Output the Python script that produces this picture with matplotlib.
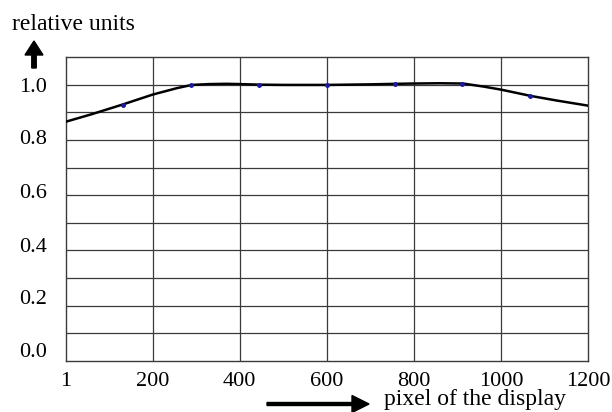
import matplotlib.pyplot as plt

plt.rcParams['font.family'] = ['Liberation Serif', 'DejaVu Serif']

curve_x = [1, 60, 131, 200, 255, 290, 330, 370, 400, 444, 500, 600,
           700, 759, 800, 860, 913, 960, 1000, 1069, 1130, 1200]
curve_y = [0.866, 0.893, 0.928, 0.964, 0.987, 0.999, 1.002, 1.003, 1.002,
           1.000, 0.999, 0.999, 1.001, 1.003, 1.004, 1.005, 1.004, 0.993,
           0.982, 0.959, 0.942, 0.924]

# sample points
pts_x = [133, 289, 444, 600, 756, 911, 1067]
pts_y = [0.928, 1.0, 0.998, 0.999, 1.003, 1.004, 0.959]

x_ticks = [1, 200, 400, 600, 800, 1000, 1200]
y_labels = ['0.0', '0.2', '0.4', '0.6', '0.8', '1.0']
y_label_pos = [0.04, 0.231, 0.419, 0.614, 0.809, 1.0]

fig = plt.figure(figsize=(6.12, 4.12), dpi=100)
ax = fig.add_axes([66 / 612, 1 - 361 / 412, 522 / 612, 304 / 412])

ax.set_xlim(1, 1200)
ax.set_ylim(0, 1.1)

# grid
for gx in x_ticks[1:-1]:
    ax.axvline(gx, color='#3a3a3a', lw=0.9, zorder=1)
for i in range(1, 11):
    ax.axhline(i / 10, color='#3a3a3a', lw=0.9, zorder=1)
for s in ax.spines.values():
    s.set_color('#3a3a3a')
    s.set_linewidth(1.0)

ax.plot(curve_x, curve_y, color='black', lw=1.8, zorder=3)
ax.plot(pts_x, pts_y, 'o', color='#1a1aa0', ms=2.5, zorder=4)

ax.set_xticks(x_ticks, [str(t) for t in x_ticks])
ax.set_yticks(y_label_pos, y_labels)
ax.tick_params(axis='x', length=0, pad=8, labelsize=16)
ax.tick_params(axis='y', length=0, pad=14, labelsize=16)

fig.text(12 / 612, 1 - 25 / 412, 'relative units', fontsize=17,
         ha='left', va='center')
fig.text(384 / 612, 1 - 400 / 412, 'pixel of the display', fontsize=17,
         ha='left', va='center')

# arrows
fig.patches.append(plt.matplotlib.patches.FancyArrow(
    34 / 612, 1 - 68 / 412, 0, 27 / 412, width=3 / 412,
    head_width=18 / 612, head_length=14 / 412, length_includes_head=True,
    color='black', transform=fig.transFigure, figure=fig))
fig.patches.append(plt.matplotlib.patches.FancyArrow(
    267 / 612, 1 - 404 / 412, 102 / 612, 0, width=3 / 412,
    head_width=17 / 412, head_length=17 / 612, length_includes_head=True,
    color='black', transform=fig.transFigure, figure=fig))

fig.savefig('out.png', dpi=100)
